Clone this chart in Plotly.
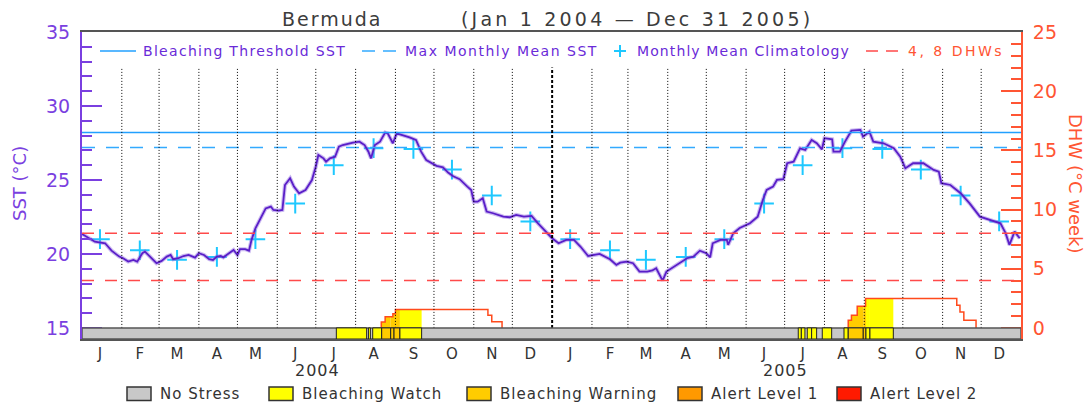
import pandas as pd
import plotly.graph_objects as go

BASE = pd.Timestamp("2004-01-01")
N_DAYS = 731

# ---------------- data ----------------
# daily SST (deg C): day offset from Jan 1 2004 and value
sst_day = [0, 10, 18, 23, 29, 32, 36, 40, 43, 47,
           49, 53, 58, 62, 66, 69, 71, 75, 79, 83,
           88, 91, 95, 99, 102, 105, 108, 110, 114, 118,
           121, 123, 127, 130, 132, 135, 139, 143, 147, 149,
           153, 156, 158, 162, 165, 169, 174, 179, 182, 184,
           188, 190, 193, 197, 200, 203, 211, 216, 220, 223,
           225, 228, 232, 236, 238, 242, 245, 250, 255, 260,
           264, 268, 276, 281, 285, 289, 294, 300, 303, 305,
           308, 312, 315, 320, 328, 333, 338, 344, 350, 355,
           360, 366, 371, 377, 383, 388, 394, 398, 403, 411,
           416, 419, 424, 429, 434, 440, 444, 447, 450, 452,
           455, 460, 466, 471, 476, 481, 486, 489, 491, 497,
           502, 503, 507, 512, 520, 526, 530, 533, 538, 541,
           546, 549, 554, 559, 563, 568, 572, 576, 578, 584,
           585, 590, 594, 599, 606, 608, 613, 616, 624, 632,
           637, 641, 647, 655, 663, 667, 669, 676, 684, 691,
           699, 707, 715, 719, 722, 726, 730]
sst_val = [21.35, 20.83, 20.72, 20.22, 19.82, 19.71, 19.48, 19.59, 19.48, 20.05,
           20.16, 19.82, 19.37, 19.53, 19.82, 19.93, 19.64, 19.71, 19.86, 19.93,
           19.75, 20.05, 19.93, 19.64, 19.59, 19.82, 19.86, 19.77, 20.05, 20.27,
           19.93, 20.32, 20.32, 20.22, 20.95, 21.73, 22.4, 23.08, 23.2, 22.97,
           22.93, 22.97, 24.66, 25.11, 24.55, 24.1, 24.32, 24.99, 25.9, 26.69,
           26.46, 26.24, 26.46, 26.57, 27.25, 27.36, 27.52, 27.59, 27.36, 26.91,
           26.46, 27.36, 27.59, 28.2, 28.15, 27.48, 28.15, 28.04, 27.88, 27.7,
           26.91, 26.35, 25.95, 25.85, 25.5, 25.25, 25.05, 24.55, 24.32, 23.53,
           23.53, 23.76, 22.86, 22.75, 22.52, 22.48, 22.64, 22.52, 22.57, 22.07,
           21.62, 21.06, 20.72, 20.95, 20.95, 20.5, 19.86, 19.93, 20.0, 19.64,
           19.26, 19.41, 19.48, 19.37, 18.81, 18.81, 18.88, 19.03, 18.47, 18.2,
           18.81, 19.1, 19.48, 19.71, 19.82, 20.22, 20.05, 19.77, 20.72, 20.95,
           20.95, 20.61, 21.4, 21.75, 22.07, 22.52, 23.65, 24.32, 24.55, 25.0,
           25.05, 26.13, 26.24, 27.14, 27.03, 27.7, 27.48, 27.07, 27.82, 27.75,
           26.91, 26.91, 27.59, 28.33, 28.38, 27.93, 28.26, 27.59, 27.48, 27.14,
           26.57, 25.79, 26.13, 26.13, 25.68, 25.56, 24.78, 24.66, 24.1, 23.42,
           22.52, 22.3, 22.07, 21.4, 20.61, 21.51, 21.06]

month_letters = ["J", "F", "M", "A", "M", "J", "J", "A", "S", "O", "N", "D"]
years = [2004, 2005]
clim_val = [21.0, 20.25, 19.6, 19.8, 21.0, 23.4, 26.0, 27.15, 27.1, 25.7, 23.95, 22.2]

mmm = 27.2
bleach_thresh = 28.2
dhw_levels = [4, 8]

# Degree Heating Weeks, step changes: day offset and new value
dhw_day = [233, 236, 242, 244, 316, 319, 327,
           596.5, 599, 603.5, 610, 681, 683.5, 686.5, 696]
dhw_val = [0.5, 0.95, 1.2, 1.55, 1.07, 0.51, 0,
           0.65, 1.07, 1.83, 2.48, 1.92, 1.35, 0.65, 0]

# stress level periods (0 none, 1 watch, 2 warning, 3 alert 1, 4 alert 2)
stress_start = [198, 223, 226.3, 233.3, 240.3, 242.9, 247.5,
                557.6, 560, 564.6, 568, 576.3, 593.2, 596.5, 608.2, 610.3, 613.4]
stress_end = [221.6, 224.5, 233.3, 240.3, 242.9, 247.5, 264.4,
              560, 562.8, 568, 571.9, 583.6, 596.5, 608.2, 610.3, 613.4, 631.6]
stress_level = [1, 1, 1, 2, 2, 2, 1,
                1, 1, 1, 1, 1, 1, 2, 2, 1, 1]

stress_names = ["No Stress", "Bleaching Watch", "Bleaching Warning",
                "Alert Level 1", "Alert Level 2"]
stress_colors = ["#c8c8c8", "#ffff00", "#ffcc00", "#ff9900", "#ff1a00"]

# ---------------- styling ----------------
FONT = "DejaVu Sans"
PURPLE_TXT = "#7a3fe0"
PURPLE_LEG = "#6a2ad8"
SST_COL = "#5a1ec8"
DHW_COL = "#ff4a1c"
RED_TXT = "#ff5533"
BLUE = "#22a0ff"
CYAN = "#1ec8ff"
Y0, Y1 = 14.25, 35.0
Y2_0, Y2_1 = (Y0 - 15) * 1.25, (Y1 - 15) * 1.25

# the page body adds an 8 px offset; plot area spans page px x 82-1021, y 32-339
OFF = 8


def to_date(t):
    return BASE + pd.Timedelta(days=float(t))


def dhw_at(t):
    v = 0.0
    for d, val in zip(dhw_day, dhw_val):
        if d <= t:
            v = val
    return v


def px_x(p):
    return (p - 82) / 939.0


def px_y(p):
    return (339 - p) / 307.0


fig = go.Figure()

# DHW area filled with the stress colour of each period
for a, b, lev in zip(stress_start, stress_end, stress_level):
    xs = [a] + [d for d in dhw_day if a < d < b] + [b]
    ys = [dhw_at(x) for x in xs]
    ys[-1] = ys[-2]
    if max(ys) <= 0:
        continue
    fig.add_trace(go.Scatter(
        x=[to_date(x) for x in xs], y=ys, yaxis="y2", mode="lines",
        line=dict(width=0, shape="hv"), fill="tozeroy",
        fillcolor=stress_colors[lev], hoverinfo="skip", showlegend=False))

# DHW step line, drawn for each heating episode
lx, ly = [], []
prev = 0.0
for d, v in zip(dhw_day, dhw_val):
    if prev == 0.0:
        lx.append(to_date(d))
        ly.append(0.0)
    lx.append(to_date(d))
    ly.append(v)
    if v == 0.0:
        lx.append(None)
        ly.append(None)
    prev = v
fig.add_trace(go.Scatter(x=lx, y=ly, yaxis="y2", mode="lines",
                         line=dict(color=DHW_COL, width=1.5, shape="hv"),
                         connectgaps=False, showlegend=False))

# climatology crosses
clim_x = [pd.Timestamp(y, m + 1, 15) for y in years for m in range(12)]
clim_y = clim_val * len(years)
fig.add_trace(go.Scatter(x=clim_x, y=clim_y, mode="markers",
                         marker=dict(symbol="cross-thin", size=14,
                                     line=dict(width=2, color=CYAN)),
                         showlegend=False))

# SST line with soft halo
sst_x = [to_date(t) for t in sst_day]
fig.add_trace(go.Scatter(x=sst_x, y=sst_val, mode="lines",
                         line=dict(color="rgba(140,100,225,0.45)", width=4),
                         hoverinfo="skip", showlegend=False))
fig.add_trace(go.Scatter(x=sst_x, y=sst_val, mode="lines",
                         line=dict(color=SST_COL, width=1.8), showlegend=False))

shapes = []
x_start, x_end = BASE, BASE + pd.Timedelta(days=N_DAYS)

# reference lines
shapes.append(dict(type="line", xref="x", yref="y", x0=x_start, x1=x_end,
                   y0=bleach_thresh, y1=bleach_thresh,
                   line=dict(color=BLUE, width=1.5)))
shapes.append(dict(type="line", xref="x", yref="y", x0=x_start, x1=x_end,
                   y0=mmm, y1=mmm,
                   line=dict(color="#33aaff", width=1.5, dash="13px,11px")))
for lv in dhw_levels:
    shapes.append(dict(type="line", xref="x", yref="y2", x0=x_start, x1=x_end,
                       y0=lv, y1=lv,
                       line=dict(color="#ff4a4a", width=1.5, dash="12px,11px")))

# month boundary dotted lines
for y in years:
    for m in range(1, 13):
        ts = pd.Timestamp(y, m, 1)
        if ts == BASE:
            continue
        thick = (m == 1)
        shapes.append(dict(type="line", xref="x", yref="y", x0=ts, x1=ts,
                           y0=15, y1=32.6, layer="above",
                           line=dict(color="black", width=2 if thick else 1,
                                     dash="3px,2px" if thick else "1px,2px")))

# stress bar
shapes.append(dict(type="rect", xref="x", yref="y", x0=x_start, x1=x_end,
                   y0=Y0, y1=15, fillcolor=stress_colors[0],
                   line=dict(color="#555555", width=1.5), layer="above"))
for a, b, lev in zip(stress_start, stress_end, stress_level):
    shapes.append(dict(type="rect", xref="x", yref="y", x0=to_date(a), x1=to_date(b),
                       y0=Y0, y1=15, fillcolor=stress_colors[lev],
                       line=dict(color="#222222", width=1), layer="above"))

annotations = []

# top legend
LY = px_y(51)
shapes.append(dict(type="line", xref="paper", yref="paper", x0=px_x(100), x1=px_x(136),
                   y0=LY, y1=LY, line=dict(color=BLUE, width=1.5)))
shapes.append(dict(type="line", xref="paper", yref="paper", x0=px_x(362), x1=px_x(396),
                   y0=LY, y1=LY, line=dict(color="#33aaff", width=1.5, dash="13px,8px")))
shapes.append(dict(type="line", xref="paper", yref="paper", x0=px_x(614), x1=px_x(626),
                   y0=LY, y1=LY, line=dict(color=CYAN, width=2)))
shapes.append(dict(type="line", xref="paper", yref="paper", x0=px_x(620), x1=px_x(620),
                   y0=px_y(45), y1=px_y(57), line=dict(color=CYAN, width=2)))
shapes.append(dict(type="line", xref="paper", yref="paper", x0=px_x(866), x1=px_x(898),
                   y0=LY, y1=LY, line=dict(color="#ff4a4a", width=1.5, dash="12px,8px")))


def ls(text, sp):
    return '<span style="letter-spacing:%spx">%s</span>' % (sp, text)


for txt, xp, col, sp in [("Bleaching Threshold SST", 141, PURPLE_LEG, 1.3),
                         ("Max Monthly Mean SST", 403, PURPLE_LEG, 1.5),
                         ("Monthly Mean Climatology", 635, PURPLE_LEG, 1.1),
                         ("4, 8 DHWs", 906, RED_TXT, 2.5)]:
    annotations.append(dict(text=ls(txt, sp), xref="paper", yref="paper",
                            x=px_x(xp), y=LY, xanchor="left", yanchor="middle",
                            showarrow=False, font=dict(family=FONT, size=14, color=col)))

# title
annotations.append(dict(text=ls("Bermuda", 2), xref="paper", yref="paper",
                        x=px_x(332), y=px_y(19), xanchor="center", yanchor="middle",
                        showarrow=False, font=dict(family=FONT, size=19, color="#3c3c3c")))
annotations.append(dict(text=ls("(Jan 1 2004 \u2014 Dec 31 2005)", 3.2), xref="paper", yref="paper",
                        x=px_x(637), y=px_y(19), xanchor="center", yanchor="middle",
                        showarrow=False, font=dict(family=FONT, size=19, color="#3c3c3c")))

# axis titles
annotations.append(dict(text="SST (\u00b0C)", xref="paper", yref="paper",
                        x=px_x(19), y=px_y(184), textangle=-90, showarrow=False,
                        xanchor="center", yanchor="middle",
                        font=dict(family=FONT, size=18, color=PURPLE_TXT)))
annotations.append(dict(text="DHW (\u00b0C week)", xref="paper", yref="paper",
                        x=px_x(1076), y=px_y(184), textangle=90, showarrow=False,
                        xanchor="center", yanchor="middle",
                        font=dict(family=FONT, size=18, color=RED_TXT)))

# year labels
for y in years:
    annotations.append(dict(text=ls(str(y), 1), xref="x", yref="paper",
                            x=pd.Timestamp(y, 7, 2), y=px_y(370), showarrow=False,
                            xanchor="center", yanchor="middle",
                            font=dict(family=FONT, size=16, color="#333333")))

# stress legend
box_x = [127, 269, 467, 678, 837]
for name, col, bx in zip(stress_names, stress_colors, box_x):
    shapes.append(dict(type="rect", xref="paper", yref="paper",
                       x0=px_x(bx), x1=px_x(bx + 24), y0=px_y(400.5), y1=px_y(387),
                       fillcolor=col, line=dict(color="#333333", width=1.5)))
    annotations.append(dict(text=ls(name, 1), xref="paper", yref="paper",
                            x=px_x(bx + 31), y=px_y(394), xanchor="left", yanchor="middle",
                            showarrow=False, font=dict(family=FONT, size=15, color="#333333")))

month_ticks = [pd.Timestamp(y, m + 1, 15) for y in years for m in range(12)]

fig.update_layout(
    width=1092 - OFF, height=408 - OFF,
    margin=dict(l=82 - OFF, r=71, t=32 - OFF, b=69),
    paper_bgcolor="white", plot_bgcolor="white",
    showlegend=False,
    shapes=shapes, annotations=annotations,
    xaxis=dict(type="date", range=[x_start, x_end], showgrid=False, zeroline=False,
               tickmode="array", tickvals=month_ticks, ticktext=month_letters * len(years),
               ticks="", tickfont=dict(family=FONT, size=15, color="#333333"),
               showline=True, linecolor="#555555", linewidth=1.5, mirror=True,
               ticklabelstandoff=0),
    yaxis=dict(range=[Y0, Y1], tick0=15, dtick=5, tickmode="linear",
               ticks="inside", ticklen=20, tickwidth=1.5, tickcolor=PURPLE_TXT,
               minor=dict(ticks="inside", ticklen=10, dtick=1, tick0=15,
                          tickwidth=1.5, tickcolor=PURPLE_TXT, showgrid=False),
               showgrid=False, zeroline=False, showline=True, linecolor=PURPLE_TXT,
               linewidth=2, tickfont=dict(family=FONT, size=19, color=PURPLE_TXT),
               ticklabelstandoff=6),
    yaxis2=dict(range=[Y2_0, Y2_1], overlaying="y", side="right", tick0=0, dtick=5,
                tickmode="linear", ticks="inside", ticklen=20, tickwidth=1.5,
                tickcolor=RED_TXT,
                minor=dict(ticks="inside", ticklen=10, dtick=1, tick0=0,
                           tickwidth=1.5, tickcolor=RED_TXT, showgrid=False),
                showgrid=False, zeroline=False, showline=True, linecolor=RED_TXT,
                linewidth=2, tickfont=dict(family=FONT, size=19, color=RED_TXT),
                ticklabelstandoff=6),
)

fig.write_html("out.html")
